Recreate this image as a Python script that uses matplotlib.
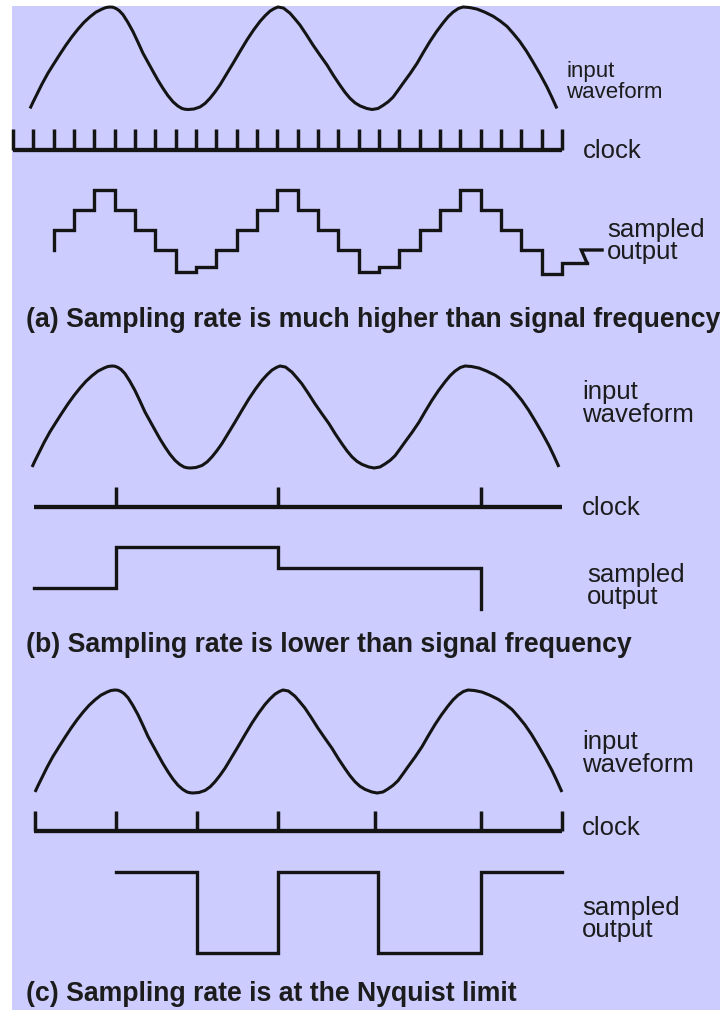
"""Sampling-rate diagram: input waveform, clock and sampled output for
three sampling rates (much higher, lower, Nyquist limit)."""

import matplotlib
matplotlib.use("Agg")
import matplotlib.pyplot as plt
from matplotlib.patches import Rectangle

plt.rcParams["font.family"] = ["Liberation Sans", "DejaVu Sans"]

W, H = 720, 1010
BG = "#ccccff"
INK = "#141414"
TXT = "#1c1c1c"

# input waveform
# time in clock periods of panel (a), amplitude normalised to -1..1
WAVE_T = [0.84, 0.98, 1.13, 1.28, 1.43, 1.72, 2.02, 2.31, 2.61, 2.90, 3.20,
          3.49, 3.79, 4.08, 4.38, 4.57, 4.77, 4.92, 5.07, 5.22, 5.41, 5.65,
          5.90, 6.15, 6.39, 6.64, 6.89, 7.13, 7.38, 7.62, 7.87, 8.10, 8.31,
          8.46, 8.61, 8.90, 9.20, 9.45, 9.69, 9.93, 10.18, 10.50, 10.82,
          11.16, 11.51, 11.83, 12.15, 12.40, 12.64, 12.85, 13.03, 13.30,
          13.62, 13.86, 14.11, 14.43, 14.75, 15.10, 15.44, 15.75, 16.07,
          16.32, 16.57, 16.82, 17.07, 17.40, 17.66, 17.95, 18.20, 18.45,
          18.69, 18.93, 19.18, 19.53, 19.87, 20.19, 20.51, 20.83, 21.15,
          21.40, 21.64, 21.90, 22.13, 22.45, 22.82, 23.20, 23.61, 23.95,
          24.30, 24.61, 24.92, 25.25, 25.57, 25.92, 26.26, 26.50, 26.75]
WAVE_V = [-0.98, -0.86, -0.74, -0.62, -0.50, -0.29, -0.10, 0.08, 0.26, 0.42,
          0.57, 0.70, 0.81, 0.90, 0.96, 0.99, 1.00, 0.995, 0.97, 0.93, 0.85,
          0.70, 0.52, 0.31, 0.10, -0.08, -0.26, -0.43, -0.59, -0.73, -0.85,
          -0.93, -0.98, -0.995, -1.00, -0.99, -0.95, -0.88, -0.78, -0.66,
          -0.52, -0.31, -0.10, 0.13, 0.36, 0.55, 0.72, 0.83, 0.92, 0.97, 1.00,
          0.98, 0.88, 0.77, 0.65, 0.46, 0.26, 0.06, -0.13, -0.33, -0.52,
          -0.66, -0.78, -0.87, -0.93, -0.98, -1.00, -0.98, -0.92, -0.85,
          -0.76, -0.63, -0.49, -0.30, -0.10, 0.12, 0.33, 0.52, 0.69, 0.81,
          0.90, 0.97, 1.00, 0.99, 0.96, 0.90, 0.82, 0.73, 0.62, 0.48, 0.33,
          0.14, -0.07, -0.31, -0.56, -0.76, -0.98]

# (a) sampling much faster than the signal
CLOCK_A_SPAN = [0, 27]
CLOCK_A_TICKS = list(range(0, 28))
SAMPLE_A_T = list(range(2, 28))
SAMPLE_A_LEVEL = [0, 1, 2, 1, 0, -1, -2.1, -1.85, -1, 0, 1, 2, 1, 0, -1,
                  -2.1, -1.85, -1, 0, 1, 2, 1, 0, -1, -2.2, -1.65]
SAMPLE_A_START = -1
SAMPLE_A_END = 28.23
BREAK_A_T = [28.23, 27.95, 28.97]
BREAK_A_LEVEL = [-1.65, -1.0, -1.0]

# (b) sampling slower than the signal
CLOCK_B_SPAN = [1.03, 27.0]
CLOCK_B_TICKS = [5.07, 13.03, 23.02]
SAMPLE_B_T = [1.03, 5.07, 13.03, 23.02]
SAMPLE_B_LEVEL = [0, 2, 1, -1]

# (c) sampling at the Nyquist limit
CLOCK_C_SPAN = [1.03, 27.0]
CLOCK_C_TICKS = [1.08, 5.07, 9.05, 13.03, 17.80, 23.02, 27.0]
SAMPLE_C_T = [5.07, 9.05, 13.03, 17.95, 23.02, 27.0]
SAMPLE_C_LEVEL = [1, -1, 1, -1, 1, 1]

TITLES = ["(a) Sampling rate is much higher than signal frequency",
          "(b) Sampling rate is lower than signal frequency",
          "(c) Sampling rate is at the Nyquist limit"]


def px_axes(fig, x0, y0, x1, y1, xlim, ylim):
    """Axes placed by pixel box (y measured from the top)."""
    ax = fig.add_axes([x0 / W, 1 - y1 / H, (x1 - x0) / W, (y1 - y0) / H])
    ax.set_xlim(*xlim)
    ax.set_ylim(*ylim)
    ax.axis("off")
    ax.patch.set_visible(False)
    return ax


def time_axes(fig, top, bot, ylim, shift=0.0):
    # 20.33 px per clock period of panel (a), t=0 at x=13 px
    return px_axes(fig, 13 + shift, top, 623 + shift, bot, (0, 30), ylim)


def px_text(fig, x, y, s, **kw):
    # y is the baseline of the last line
    fig.text(x / W, 1 - y / H, s, va="baseline", ha="left", **kw)


fig = plt.figure(figsize=(W / 100, H / 100), dpi=100)
fig.patch.set_facecolor("white")
fig.patches.append(Rectangle((12 / W, 0), 1 - 12 / W, 1 - 6 / H,
                             transform=fig.transFigure, facecolor=BG,
                             edgecolor="none", zorder=-10))

wave_lw = 2.2
step_lw = 2.4
base_lw = 3.1
tick_lw = 2.5

layout = [
    # wave top/bottom, wave x shift, clock base/top, title baseline
    dict(wave=(7, 109.5), shift=0, clock=(150, 129), title=327),
    dict(wave=(366, 468), shift=2, clock=(507, 487), title=652),
    dict(wave=(690, 793), shift=5, clock=(831, 811), title=1001),
]
clocks = [(CLOCK_A_SPAN, CLOCK_A_TICKS), (CLOCK_B_SPAN, CLOCK_B_TICKS),
          (CLOCK_C_SPAN, CLOCK_C_TICKS)]

for i, lay in enumerate(layout):
    # input waveform
    top, bot = lay["wave"]
    ax = time_axes(fig, top, bot, (-1, 1), shift=lay["shift"])
    ax.plot(WAVE_T, WAVE_V, color=INK, lw=wave_lw, solid_capstyle="butt",
            solid_joinstyle="round", clip_on=False)

    # clock
    base, ttop = lay["clock"]
    axc = time_axes(fig, ttop, base, (0, 1))
    span, ticks = clocks[i]
    axc.plot(span, [0, 0], color=INK, lw=base_lw, solid_capstyle="butt",
             clip_on=False)
    axc.vlines(ticks, 0, 1, color=INK, lw=tick_lw, clip_on=False)

    px_text(fig, 26, lay["title"], TITLES[i], fontsize=19.2,
            fontweight="bold", color=TXT)

# (a) staircase output, 20 px per quantisation level, level 0 at y=230
axa = time_axes(fig, 180, 280, (-2.5, 2.5))
xs = [SAMPLE_A_T[0]] + SAMPLE_A_T + [SAMPLE_A_END]
ys = [SAMPLE_A_START] + SAMPLE_A_LEVEL + [SAMPLE_A_LEVEL[-1]]
axa.plot(xs, ys, drawstyle="steps-post", color=INK, lw=step_lw,
         solid_joinstyle="miter", clip_on=False)
axa.plot(BREAK_A_T, BREAK_A_LEVEL, color=INK, lw=step_lw,
         solid_joinstyle="miter", clip_on=False)

# (b) held samples
axb = time_axes(fig, 537.3, 618.7, (-1.5, 2.5))
axb.plot(SAMPLE_B_T, SAMPLE_B_LEVEL, drawstyle="steps-post", color=INK,
         lw=step_lw, solid_joinstyle="miter", clip_on=False)

# (c) square wave at the Nyquist limit
axn = time_axes(fig, 872, 953, (-1, 1))
axn.plot(SAMPLE_C_T, SAMPLE_C_LEVEL, drawstyle="steps-post", color=INK,
         lw=step_lw, solid_joinstyle="miter", clip_on=False)

# right-hand labels; two-line labels are single texts with tight spacing
lab = dict(fontsize=18.5, color=TXT)
px_text(fig, 566, 98, "input\nwaveform", fontsize=16, color=TXT,
        linespacing=1.02)
px_text(fig, 583, 158, "clock", **lab)
px_text(fig, 607, 259, "sampled\noutput", linespacing=0.88, **lab)

px_text(fig, 582, 422, "input\nwaveform", linespacing=0.95, **lab)
px_text(fig, 582, 515, "clock", **lab)
px_text(fig, 587, 604, "sampled\noutput", linespacing=0.88, **lab)

px_text(fig, 582, 772, "input\nwaveform", linespacing=0.95, **lab)
px_text(fig, 582, 835, "clock", **lab)
px_text(fig, 582, 937, "sampled\noutput", linespacing=0.92, **lab)

fig.savefig("out.png", dpi=100, facecolor=fig.get_facecolor())
